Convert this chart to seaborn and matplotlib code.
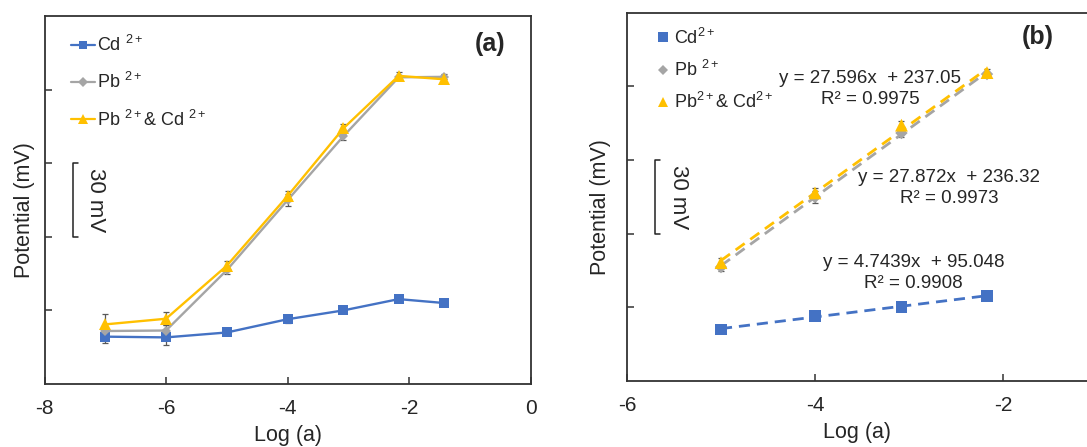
import numpy as np
import pandas as pd
import seaborn as sns
import matplotlib.pyplot as plt
from matplotlib.lines import Line2D

sns.set_theme(style="white")
plt.rcParams['font.family'] = ['Liberation Sans', 'DejaVu Sans']
plt.rcParams['mathtext.fontset'] = 'custom'
plt.rcParams['mathtext.rm'] = 'Liberation Sans'
plt.rcParams['mathtext.it'] = 'Liberation Sans:italic'

# data (potential in mV vs log activity)
log_a = [-7, -6, -5, -4, -3.08, -2.17, -1.42]
cd = [69.3, 69.0, 71.0, 76.4, 80.0, 84.6, 83.0]
pb = [71.6, 71.8, 96.4, 124.9, 151.0, 175.0, 175.2]
pb_cd = [74.3, 76.6, 98.2, 126.6, 154.2, 175.6, 174.2]
cd_err = [2.4, 3.0, 1.0, 1.5, 0.8, 0.8, 0.8]
pb_err = [1.5, 2.2, 1.5, 2.5, 1.5, 1.0, 1.0]
pb_cd_err = [4.3, 2.7, 2.0, 2.0, 1.8, 1.5, 1.0]

# linear range shown in (b): points 3..6
lin_idx = [2, 3, 4, 5]

# trend line equations printed on (b)
slopes = [4.7439, 27.872, 27.596]
intercepts = [95.048, 236.32, 237.05]
r2 = [0.9908, 0.9973, 0.9975]

names = ['Cd', 'Pb', 'PbCd']
labels_a = ['Cd $^{2+}$', 'Pb $^{2+}$', 'Pb $^{2+}$& Cd $^{2+}$']
labels_b = ['Cd$^{2+}$', 'Pb $^{2+}$', 'Pb$^{2+}$& Cd$^{2+}$']
colors = ['#4472C4', '#A5A5A5', '#FFC000']
markers = ['s', 'D', '^']
ms_a = [7.0, 5.2, 8.6]
size_b = [72, 40, 85]
size_leg_b = [50, 30, 60]

df = pd.DataFrame({
    'log_a': log_a * 3,
    'E': cd + pb + pb_cd,
    'err': cd_err + pb_err + pb_cd_err,
    'ion': np.repeat(names, len(log_a)),
})

W, H = 1087, 447
fig = plt.figure(figsize=(W / 100, H / 100), dpi=100)
ax_a = fig.add_axes([44.5 / W, (H - 384) / H, 486 / W, 368 / H])
ax_b = fig.add_axes([627 / W, (H - 381) / H, 460 / W, 368.3 / H])

err_color = '#595959'
spine_color = '#333333'

# ---------- (a) ----------
for name, col, mk, ms, lab in zip(names, colors, markers, ms_a, labels_a):
    d = df[df.ion == name]
    ax_a.errorbar(d.log_a, d.E, yerr=d.err, fmt='none', ecolor=err_color,
                  elinewidth=0.9, capsize=2.5, capthick=0.9, zorder=1)
    sns.lineplot(data=d, x='log_a', y='E', ax=ax_a, color=col, marker=mk,
                 markersize=ms, markeredgewidth=0, linewidth=1.7,
                 errorbar=None, label=lab, zorder=2)

ax_a.set_xlim(-8, 0)
ax_a.set_ylim(50, 200)
ax_a.set_xticks([-8, -6, -4, -2, 0])
ax_a.set_xticklabels(['-8', '-6', '-4', '-2', '0'])
ax_a.set_yticks([80, 110, 140, 170])
ax_a.set_yticklabels([])
handles_a = [Line2D([], [], color=c, marker=m, markersize=s * 0.9, markeredgewidth=0, lw=1.6)
             for c, m, s in zip(colors, markers, ms_a)]
ax_a.legend(handles_a, labels_a, loc='upper left', bbox_to_anchor=(0.055, 0.948),
            frameon=False, fontsize=13, handlelength=1.3, handletextpad=0.15,
            labelspacing=0.95, borderpad=0, borderaxespad=0)
ax_a.text(0.917, 0.925, '(a)', transform=ax_a.transAxes, fontsize=18,
          fontweight='bold', ha='center', va='center')

# ---------- (b) ----------
for k, (name, col, mk, s) in enumerate(zip(names, colors, markers, size_b)):
    d = df[df.ion == name].iloc[lin_idx]
    xs = np.array([d.log_a.min(), d.log_a.max()])
    fit = pd.DataFrame({'log_a': xs, 'E': slopes[k] * xs + intercepts[k]})
    sns.lineplot(data=fit, x='log_a', y='E', ax=ax_b, color=col, linewidth=2.0,
                 linestyle=(0, (4, 2.5)), zorder=2)
    ax_b.errorbar(d.log_a, d.E, yerr=d.err, fmt='none', ecolor=err_color,
                  elinewidth=0.9, capsize=2.5, capthick=0.9, zorder=1)
    sns.scatterplot(data=d, x='log_a', y='E', ax=ax_b, color=col, marker=mk,
                    s=s, edgecolor='none', zorder=3)

ax_b.set_xlim(-6, -1.106)
ax_b.set_ylim(50, 200)
ax_b.set_xticks([-6, -4, -2])
ax_b.set_xticklabels(['-6', '-4', '-2'])
ax_b.set_yticks([80, 110, 140, 170])
ax_b.set_yticklabels([])
ax_b.spines['right'].set_visible(False)
handles_b = [Line2D([], [], color=c, marker=m, markersize=np.sqrt(s), markeredgewidth=0, lw=0)
             for c, m, s in zip(colors, markers, size_leg_b)]
ax_b.legend(handles_b, labels_b, loc='upper left', bbox_to_anchor=(0.065, 0.96),
            frameon=False, fontsize=13, handlelength=0.7, handletextpad=0.25,
            labelspacing=0.68, borderpad=0, borderaxespad=0)
ax_b.text(0.8925, 0.935, '(b)', transform=ax_b.transAxes, fontsize=18,
          fontweight='bold', ha='center', va='center')

# equations (positions in data coordinates)
eq_pos = [(-2.95, 94.0), (-2.57, 128.6), (-3.41, 169.0)]
for k, (x, y) in enumerate(eq_pos):
    ax_b.text(x, y, f'y = {slopes[k]}x  + {intercepts[k]}\nR² = {r2[k]}',
              fontsize=13.5, ha='center', va='center', linespacing=1.3)

# scale bars (30 mV)
for ax, xb, dx, tx in [(ax_a, -7.53, 0.08, -7.16), (ax_b, -5.70, 0.055, -5.45)]:
    ax.plot([xb + dx, xb, xb, xb + dx], [140, 140, 110, 110], color='#222222', lw=1.1)
    ax.text(tx, 125, '30 mV', rotation=270, fontsize=16,
            ha='center', va='center')

for ax, lx in [(ax_a, -0.02), (ax_b, -0.034)]:
    ax.set_xlabel('Log (a)', fontsize=15.5, labelpad=5)
    ax.set_ylabel('Potential (mV)', fontsize=15.5)
    ax.yaxis.set_label_coords(lx, 0.472)
    ax.tick_params(axis='both', direction='in', length=5, width=1.1,
                   color=spine_color, labelsize=15, pad=11, left=True, bottom=True)
    for sp in ax.spines.values():
        sp.set_color(spine_color)
        sp.set_linewidth(1.3)

fig.savefig('out.png', dpi=100)
